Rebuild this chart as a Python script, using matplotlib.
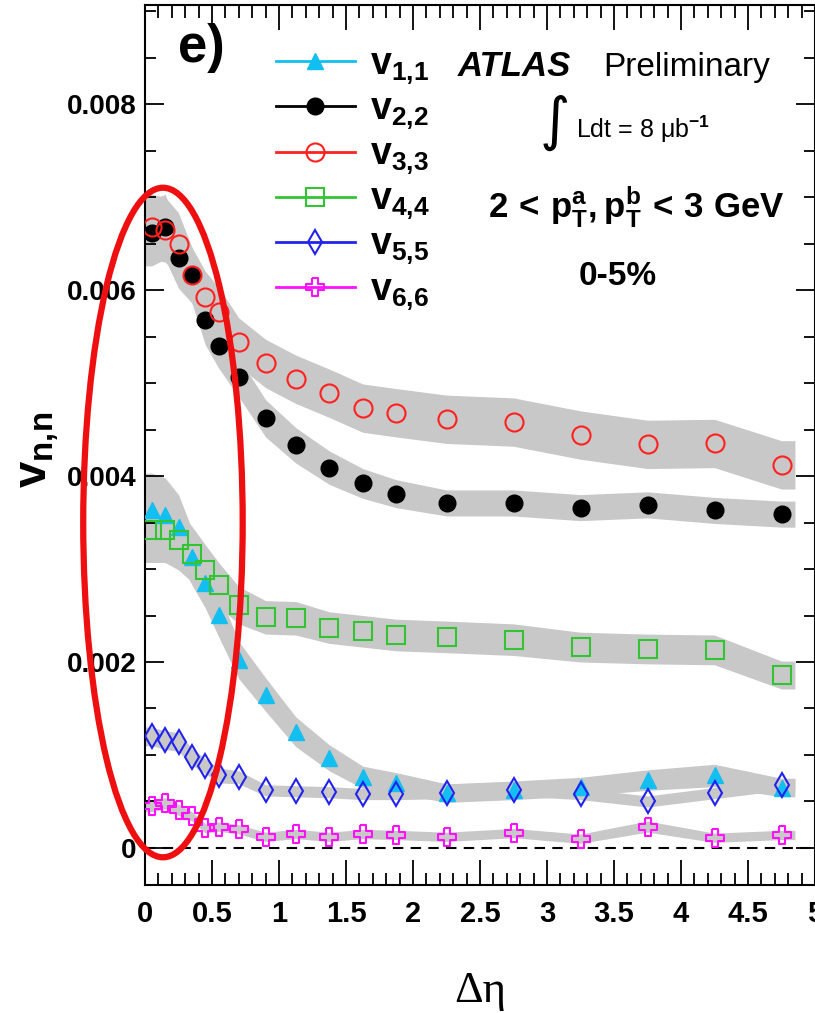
import numpy as np
import matplotlib
matplotlib.use('Agg')
import matplotlib.pyplot as plt
from matplotlib.patches import Ellipse
from matplotlib.path import Path
from matplotlib.lines import Line2D
from matplotlib.ticker import MultipleLocator, FuncFormatter

plt.rcParams['font.family'] = ['Liberation Sans', 'DejaVu Sans']
plt.rcParams['font.weight'] = 'bold'
plt.rcParams['mathtext.fontset'] = 'custom'
plt.rcParams['mathtext.rm'] = 'Liberation Sans'
plt.rcParams['mathtext.bf'] = 'Liberation Sans:bold'
plt.rcParams['mathtext.it'] = 'Liberation Sans:italic'

# delta eta bin centres
deta = [0.05, 0.15, 0.25, 0.35, 0.45, 0.55, 0.7, 0.9, 1.125, 1.375, 1.625,
        1.875, 2.25, 2.75, 3.25, 3.75, 4.25, 4.75]

v11 = [0.00363, 0.00358, 0.00345, 0.00313, 0.00285, 0.00251, 0.00202, 0.00165, 0.00125,
       0.00097, 0.00076, 0.00070, 0.00059, 0.00062, 0.00066, 0.00073, 0.00078, 0.00065]
v22 = [0.00661, 0.00668, 0.00634, 0.00616, 0.00568, 0.00540, 0.00506, 0.00462, 0.00433,
       0.00409, 0.00392, 0.00381, 0.00371, 0.00371, 0.00366, 0.00369, 0.00363, 0.00359]
v33 = [0.00668, 0.00665, 0.00650, 0.00616, 0.00592, 0.00576, 0.00544, 0.00521, 0.00504,
       0.00489, 0.00473, 0.00468, 0.00461, 0.00458, 0.00444, 0.00434, 0.00435, 0.00412]
v44 = [0.00342, 0.00342, 0.00331, 0.00316, 0.00299, 0.00283, 0.00261, 0.00248, 0.00247,
       0.00237, 0.00233, 0.00229, 0.00227, 0.00224, 0.00216, 0.00214, 0.00213, 0.00186]
v55 = [0.00120, 0.00116, 0.00114, 0.00098, 0.00088, 0.00078, 0.00076, 0.00062, 0.00061,
       0.00060, 0.00058, 0.00058, 0.00059, 0.00062, 0.00058, 0.00050, 0.00059, 0.00068]
v66 = [0.00045, 0.00048, 0.00041, 0.00034, 0.00021, 0.00023, 0.00020, 0.00012, 0.00015,
       0.00012, 0.00015, 0.00014, 0.00012, 0.00016, 0.00010, 0.00023, 0.00011, 0.00014]

# systematic uncertainties (grey bands)
e11 = [0.0004, 0.0004, 0.00035, 0.0003, 0.00027, 0.00024, 0.0002, 0.00018, 0.00016,
       0.00014, 0.00012, 0.00011, 0.0001, 0.0001, 0.0001, 0.00011, 0.00012, 0.0001]
e22 = [0.00035, 0.00035, 0.00032, 0.0003, 0.00027, 0.00024, 0.00021, 0.0002, 0.00019,
       0.00018, 0.00016, 0.00015, 0.00014, 0.00014, 0.00014, 0.00014, 0.00014, 0.00014]
e33 = [0.00035, 0.00035, 0.00033, 0.0003, 0.00028, 0.00027, 0.00026, 0.00026, 0.00026,
       0.00026, 0.00026, 0.00026, 0.00026, 0.00026, 0.00026, 0.00026, 0.00026, 0.00026]
e44 = [0.00035, 0.00035, 0.00032, 0.0003, 0.00027, 0.00024, 0.0002, 0.00018, 0.00018,
       0.00017, 0.00017, 0.00017, 0.00017, 0.00017, 0.00016, 0.00016, 0.00016, 0.00015]
e55 = [0.0001, 0.0001, 0.0001, 0.00009, 0.00008, 0.00008, 0.00007, 0.00006, 0.00006,
       0.00006, 0.00006, 0.00006, 0.00006, 0.00006, 0.00006, 0.00006, 0.00006, 0.00006]
e66 = [0.00006, 0.00006, 0.00006, 0.00005, 0.00005, 0.00005, 0.00005, 0.00005, 0.00005,
       0.00005, 0.00005, 0.00005, 0.00005, 0.00005, 0.00005, 0.00006, 0.00005, 0.00005]

labels = [r'$\mathbf{v_{1{,}1}}$', r'$\mathbf{v_{2{,}2}}$', r'$\mathbf{v_{3{,}3}}$',
          r'$\mathbf{v_{4{,}4}}$', r'$\mathbf{v_{5{,}5}}$', r'$\mathbf{v_{6{,}6}}$']

# open cross marker (ROOT style 28)
t = 1.0 / 3
cross = Path([(-t, 1), (t, 1), (t, t), (1, t), (1, -t), (t, -t), (t, -1), (-t, -1),
              (-t, -t), (-1, -t), (-1, t), (-t, t), (-t, 1)])

styles = [
    dict(marker='^', color='#12bff0', mfc='#12bff0', ms=12),
    dict(marker='o', color='black', mfc='black', ms=12),
    dict(marker='o', color='#ff2020', mfc='none', ms=13, mew=1.5),
    dict(marker='s', color='#33c433', mfc='none', ms=13, mew=1.5),
    dict(marker='d', color='#2222ee', mfc='none', ms=12, mew=1.5),
    dict(marker=cross, color='#ff10ff', mfc='none', ms=13, mew=1.5),
]

fig = plt.figure(figsize=(8.15, 10.13), dpi=100)
ax = fig.add_axes([145 / 815, 128 / 1013, 670 / 815, 880 / 1013])

x = np.array(deta)
bx = np.r_[0.0, x, x[-1] + 0.1]
series = [(v11, e11), (v22, e22), (v33, e33), (v44, e44), (v55, e55), (v66, e66)]
for (v, e), st in zip(series, styles):
    v = np.array(v)
    e = np.array(e)
    by = np.r_[v[0], v, v[-1]]
    be = np.r_[e[0], e, e[-1]]
    ax.fill_between(bx, by - be, by + be, color='#c8c8c8', lw=0, zorder=1)

handles = []
for (v, e), st in zip(series, styles):
    ax.plot(deta, v, ls='none', zorder=3, **st)
    handles.append(Line2D([], [], lw=2, **st))

ax.axhline(0, color='black', ls='--', lw=1.5, dashes=(5, 3.5), zorder=2)

ax.set_xlim(0, 5)
ax.set_ylim(-0.000398, 0.009065)

ax.xaxis.set_major_locator(MultipleLocator(0.5))
ax.xaxis.set_minor_locator(MultipleLocator(0.1))
ax.yaxis.set_major_locator(MultipleLocator(0.002))
ax.yaxis.set_minor_locator(MultipleLocator(0.0005))
ax.xaxis.set_major_formatter(FuncFormatter(lambda v, p: '{:g}'.format(v)))
ax.yaxis.set_major_formatter(FuncFormatter(lambda v, p: '0' if abs(v) < 1e-12 else '{:g}'.format(v)))

ax.tick_params(axis='both', which='both', direction='in', top=True, right=True, width=1.3)
ax.tick_params(axis='x', which='major', length=18, labelsize=21, pad=11)
ax.tick_params(axis='x', which='minor', length=9)
ax.tick_params(axis='y', which='major', length=14, labelsize=20, pad=6)
ax.tick_params(axis='y', which='minor', length=8)
for lab in ax.get_xticklabels() + ax.get_yticklabels():
    lab.set_fontweight('bold')
for sp in ax.spines.values():
    sp.set_linewidth(1.5)

ax.set_ylabel(r'$\mathbf{v_{n{,}n}}$', fontsize=34)
ax.yaxis.set_label_coords(-0.125, 0.494)
ax.set_xlabel('\u0394\u03b7', fontsize=32, fontfamily='Liberation Serif', fontweight='normal')
ax.xaxis.set_label_coords(0.5, -0.098)

ax.text(0.049, 0.951, 'e)', transform=ax.transAxes, fontsize=38, ha='left', va='center')
ax.text(0.467, 0.919, 'ATLAS', transform=ax.transAxes, fontsize=25, style='italic',
        ha='left', va='baseline')
ax.text(0.684, 0.919, 'Preliminary', transform=ax.transAxes, fontsize=24,
        fontweight='normal', ha='left', va='baseline')
ax.text(0.611, 0.866, '\u222b', transform=ax.transAxes, fontsize=42, fontweight='normal',
        family='DejaVu Sans', ha='center', va='center')
ax.text(0.643, 0.849, 'Ldt = 8 \u03bcb$^{-1}$', transform=ax.transAxes, fontsize=18,
        fontweight='normal', ha='left', va='baseline')
ax.text(0.734, 0.759, r'$\mathbf{2\,<\,p_T^a,p_T^b\,<\,3\ GeV}$', transform=ax.transAxes,
        fontsize=25, ha='center', va='baseline')
ax.text(0.705, 0.682, '0-5%', transform=ax.transAxes, fontsize=24, ha='center', va='baseline')

ax.legend(handles, labels, loc='upper left', bbox_to_anchor=(0.1955, 0.953), frameon=False,
          fontsize=27, handlelength=2.1, handletextpad=0.4, labelspacing=0.13,
          borderpad=0, borderaxespad=0)

ring = Ellipse((0.134, 0.0035), 1.19, 0.0072, fill=False, edgecolor='#ee1010', lw=4.5,
               clip_on=False, zorder=10)
ax.add_patch(ring)

fig.savefig('out.png', dpi=100)
